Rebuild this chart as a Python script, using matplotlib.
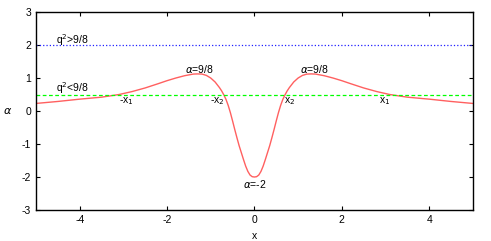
import numpy as np
import matplotlib.pyplot as plt

plt.rcParams['font.family'] = ['Liberation Sans', 'DejaVu Sans']
plt.rcParams['mathtext.fontset'] = 'dejavusans'
plt.rcParams['axes.unicode_minus'] = False

# curve (symmetric in x)
x_half = [0.0, 0.05, 0.1, 0.15, 0.2, 0.25, 0.3, 0.35, 0.4, 0.45, 0.5, 0.55, 0.6, 0.65,
          0.7, 0.75, 0.8, 0.9, 1.0, 1.1, 1.2, 1.3, 1.4, 1.6, 1.8, 2.0, 2.2, 2.5, 2.8,
          3.1, 3.5, 4.0, 4.5, 5.0]
alpha_half = [-2.0, -1.99, -1.94, -1.83, -1.67, -1.47, -1.26, -1.05, -0.81, -0.56, -0.3,
              -0.05, 0.17, 0.35, 0.49, 0.61, 0.71, 0.88, 1.0, 1.08, 1.12, 1.125, 1.12,
              1.07, 1.0, 0.92, 0.83, 0.70, 0.59, 0.5, 0.42, 0.36, 0.29, 0.23]

x = np.concatenate([-np.array(x_half[::-1]), np.array(x_half[1:])])
alpha = np.concatenate([np.array(alpha_half[::-1]), np.array(alpha_half[1:])])

q_high = 2.0
q_low = 0.5

fig = plt.figure(figsize=(4.91, 2.41), dpi=100)
ax = fig.add_axes([0.0733, 0.1286, 0.8897, 0.8214])

ax.plot(x, alpha, '-', color='#ff6060', linewidth=1.0)
ax.axhline(q_high, color='#2020ff', linestyle=':', linewidth=0.9)
ax.axhline(q_low, color='#00ff00', linestyle='--', dashes=(3, 2), linewidth=0.9)

fs = 7.5
ax.text(-4.55, 2.15, r'q$^2$>9/8', fontsize=fs, va='center')
ax.text(-4.55, 0.7, r'q$^2$<9/8', fontsize=fs, va='center')
ax.text(-1.25, 1.27, r'$\alpha$=9/8', fontsize=fs, ha='center', va='center')
ax.text(1.38, 1.27, r'$\alpha$=9/8', fontsize=fs, ha='center', va='center')
ax.text(0.0, -2.22, r'$\alpha$=-2', fontsize=fs, ha='center', va='center')
ax.text(-2.92, 0.3, r'-x$_1$', fontsize=fs, ha='center', va='center')
ax.text(-0.86, 0.3, r'-x$_2$', fontsize=fs, ha='center', va='center')
ax.text(0.81, 0.3, r'x$_2$', fontsize=fs, ha='center', va='center')
ax.text(2.98, 0.3, r'x$_1$', fontsize=fs, ha='center', va='center')

ax.set_xlim(-5, 5)
ax.set_ylim(-3, 3)
ax.set_xticks([-4, -2, 0, 2, 4])
ax.set_yticks([-3, -2, -1, 0, 1, 2, 3])
ax.tick_params(direction='in', top=True, right=True, labelsize=7.5, length=3, width=0.8)
ax.set_xlabel('x', fontsize=7.5, va='center')
ax.xaxis.set_label_coords(0.5, -0.13)
ax.set_ylabel(r'$\alpha$', fontsize=8, rotation=0, va='center')
ax.yaxis.set_label_coords(-0.065, 0.5)
for s in ax.spines.values():
    s.set_linewidth(1.0)

plt.savefig('out.png', dpi=100)
